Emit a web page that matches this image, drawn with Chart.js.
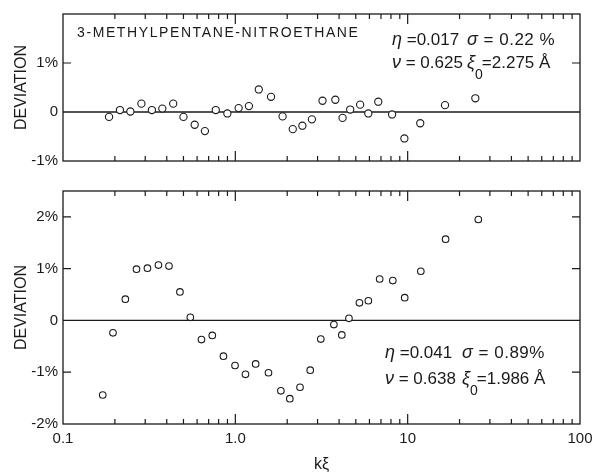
<!DOCTYPE html>
<html><head><meta charset="utf-8">
<script src="https://cdn.jsdelivr.net/npm/chart.js@4.4.1/dist/chart.umd.min.js"></script>
<style>
html,body{margin:0;padding:0;background:#fff;}
#wrap{position:relative;width:604px;height:474px;background:#fff;}
#c1{position:absolute;left:0;top:0;}
#c2{position:absolute;left:0;top:175px;}
</style></head><body>
<div id="wrap"><canvas id="c1" width="604" height="175"></canvas><canvas id="c2" width="604" height="299"></canvas></div>
<script>
// ---- data ----
const topX = [0.185,0.214,0.246,0.285,0.328,0.377,0.436,0.500,0.581,0.666,0.770,0.899,1.045,1.199,1.368,1.611,1.880,2.154,2.449,2.782,3.205,3.805,4.19,4.64,5.30,5.91,6.75,8.12,9.57,11.83,16.47,24.70];
const topY = [-0.10,0.04,0.01,0.17,0.04,0.07,0.17,-0.10,-0.26,-0.39,0.04,-0.03,0.08,0.12,0.46,0.31,-0.09,-0.35,-0.28,-0.15,0.23,0.25,-0.12,0.05,0.15,-0.03,0.21,-0.05,-0.54,-0.23,0.14,0.28];
const botX = [0.170,0.195,0.230,0.267,0.309,0.358,0.412,0.477,0.548,0.636,0.735,0.853,0.996,1.145,1.312,1.557,1.838,2.071,2.373,2.720,3.133,3.731,4.148,4.563,5.249,5.913,6.878,8.20,9.61,11.92,16.6,25.7];
const botY = [-1.44,-0.24,0.41,0.99,1.01,1.07,1.05,0.55,0.06,-0.37,-0.29,-0.69,-0.87,-1.04,-0.84,-1.01,-1.36,-1.51,-1.29,-0.96,-0.36,-0.08,-0.28,0.04,0.34,0.38,0.80,0.77,0.44,0.95,1.57,1.95];
const xTickValues = [0.1, 1, 10, 100];
const xTickLabels = ['0.1', '1.0', '10', '100'];
const topYTicks = [-1, 0, 1];
const topYLabels = ['-1%', '0', '1%'];
const botYTicks = [-2, -1, 0, 1, 2];
const botYLabels = ['-2%', '-1%', '0', '1%', '2%'];
const topTitle = '3-METHYLPENTANE-NITROETHANE';
// [greek symbol, rest of text]
const topParams = [['η', ' =0.017'], ['σ', ' = 0.22 %'], ['ν', ' = 0.625'], ['ξ', '=2.275 Å']];
const botParams = [['η', ' =0.041'], ['σ', ' = 0.89%'], ['ν', ' = 0.638'], ['ξ', '=1.986 Å']];

const INK = '#1a1a1a';
const FONT = "'Liberation Sans', Arial, sans-serif";

const framePlugin = {
  id: 'frame',
  beforeDatasetsDraw(chart, args, opts) {
    const {ctx, chartArea: a, scales} = chart;
    const xs = scales.x, ys = scales.y;
    ctx.save();
    ctx.strokeStyle = INK;
    ctx.lineWidth = 1.3;
    ctx.strokeRect(a.left, a.top, a.right - a.left, a.bottom - a.top);
    const y0 = ys.getPixelForValue(0);
    ctx.beginPath(); ctx.moveTo(a.left, y0); ctx.lineTo(a.right, y0); ctx.stroke();
    ctx.lineWidth = 1.2;
    for (const d of [0.1, 1, 10]) {
      for (let m = 1; m <= 9; m++) {
        const v = d * m;
        if (v <= 0.1 + 1e-9) continue;
        const px = xs.getPixelForValue(v);
        const len = m === 1 ? 10 : 5;
        ctx.beginPath();
        ctx.moveTo(px, a.bottom); ctx.lineTo(px, a.bottom - len);
        ctx.moveTo(px, a.top); ctx.lineTo(px, a.top + len);
        ctx.stroke();
      }
    }
    for (const v of opts.yTicks) {
      if (v === 0) continue;
      const py = ys.getPixelForValue(v);
      if (py <= a.top + 1 || py >= a.bottom - 1) continue;
      ctx.beginPath();
      ctx.moveTo(a.left, py); ctx.lineTo(a.left + 8, py);
      ctx.moveTo(a.right, py); ctx.lineTo(a.right - 8, py);
      ctx.stroke();
    }
    ctx.restore();
  },
  afterDraw(chart, args, opts) {
    const ctx = chart.ctx;
    ctx.save();
    ctx.fillStyle = INK;
    ctx.textBaseline = 'middle';
    ctx.textAlign = 'left';
    for (const t of opts.texts) {
      let x = t.x;
      const size = t.size || 17;
      ctx.letterSpacing = (t.ls || 0) + 'px';
      if (t.greek) {
        ctx.font = 'italic ' + (size + 1) + 'px ' + FONT;
        ctx.fillText(t.greek, x, t.y);
        x += ctx.measureText(t.greek).width;
      }
      if (t.sub) {
        ctx.font = (size - 3) + 'px ' + FONT;
        ctx.fillText(t.sub, x, t.y + 12);
        x += ctx.measureText(t.sub).width - 1;
      }
      ctx.font = size + 'px ' + FONT;
      ctx.fillText(t.text, x, t.y);
    }
    ctx.restore();
  }
};

function yScale(min, max, ticks, labels) {
  return {
    type: 'linear', min: min, max: max,
    afterBuildTicks: s => { s.ticks = ticks.map(v => ({value: v})); },
    afterFit: s => { s.width = 63; },
    ticks: {
      callback: v => labels[ticks.indexOf(v)],
      font: {family: FONT, size: 15}, color: INK, padding: 5
    },
    grid: {display: false, drawTicks: false},
    border: {display: false},
    title: {display: true, text: 'DEVIATION', color: INK,
            font: {family: FONT, size: 16}, padding: {top: 12, bottom: 0}}
  };
}

function pts(xs, ys) { return xs.map((x, i) => ({x: x, y: ys[i]})); }

const ds = (data, r) => ({
  type: 'scatter', data: data, showLine: false,
  pointRadius: r, pointHoverRadius: r, pointBorderWidth: 1.1,
  pointBorderColor: INK, pointBackgroundColor: '#fff'
});

function paramTexts(p, x1, x2, y1, y2) {
  return [
    {greek: p[0][0], text: p[0][1], x: x1, y: y1},
    {greek: p[1][0], text: p[1][1], x: x2, y: y1, ls: 0.5},
    {greek: p[2][0], text: p[2][1], x: x1, y: y2},
    {greek: p[3][0], sub: '0', text: p[3][1], x: x2, y: y2}
  ];
}

new Chart(document.getElementById('c1'), {
  type: 'scatter',
  data: {datasets: [ds(pts(topX, topY), 3.6)]},
  options: {
    responsive: false, animation: false, devicePixelRatio: 1,
    layout: {padding: {top: 8, right: 24, bottom: 12, left: 0}},
    scales: {
      x: {type: 'logarithmic', min: 0.1, max: 100, display: false},
      y: yScale(-1, 2, topYTicks, topYLabels)
    },
    plugins: {
      legend: {display: false}, tooltip: {enabled: false},
      frame: {yTicks: topYTicks, texts: [
        {text: topTitle, x: 77, y: 33, size: 14, ls: 1.6}
      ].concat(paramTexts(topParams, 392, 467, 40, 63))}
    }
  },
  plugins: [framePlugin]
});

new Chart(document.getElementById('c2'), {
  type: 'scatter',
  data: {datasets: [ds(pts(botX, botY), 3.3)]},
  options: {
    responsive: false, animation: false, devicePixelRatio: 1,
    layout: {padding: {top: 16, right: 24, bottom: 0, left: 0}},
    scales: {
      x: {
        type: 'logarithmic', min: 0.1, max: 100,
        afterBuildTicks: s => { s.ticks = xTickValues.map(v => ({value: v})); },
        afterFit: s => { s.height = 50; },
        ticks: {
          autoSkip: false, maxRotation: 0,
          callback: (v, i) => xTickLabels[i],
          font: {family: FONT, size: 15}, color: INK, padding: 6
        },
        grid: {display: false, drawTicks: false},
        border: {display: false},
        title: {display: true, text: 'kξ', color: INK,
                font: {family: FONT, size: 16}, padding: {top: 0, bottom: 0}}
      },
      y: yScale(-2, 2.5, botYTicks, botYLabels)
    },
    plugins: {
      legend: {display: false}, tooltip: {enabled: false},
      frame: {yTicks: botYTicks, texts: paramTexts(botParams, 385, 462, 178, 204)}
    }
  },
  plugins: [framePlugin]
});
</script>
</body></html>
